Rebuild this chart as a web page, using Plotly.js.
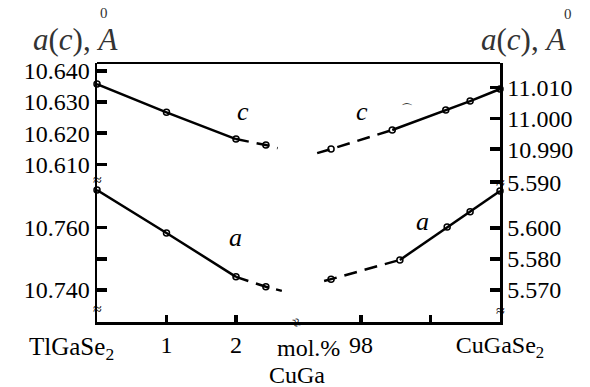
<!DOCTYPE html>
<html>
<head>
<meta charset="utf-8">
<script src="https://cdn.plot.ly/plotly-3.0.1.min.js"></script>
<style>html,body{margin:0;padding:0;background:#fff;}#chart{width:590px;height:387px;}
#st{position:absolute;left:0;top:0;font:10px monospace;color:#fff;}</style>
</head>
<body>
<div id="chart"></div>
<div id="st"></div>
<script>
window.onerror = function(m, s, l){ const d = document.getElementById('st'); d.style.color = '#c00'; d.innerHTML += 'ERR:' + m + ' line ' + l + '<br>'; };
// ---- data ----
// c parameter, TlGaSe2-rich side (left axis, upper part)
const cLeftX = [0, 1, 2, 2.43];
const cLeftY = [10.6358, 10.6267, 10.6181, 10.6162];
const cLeftEndX = 2.60, cLeftEndY = 10.6152;
// a parameter, TlGaSe2-rich side (left axis, lower part)
const aLeftX = [0, 1, 2, 2.43];
const aLeftY = [10.7721, 10.7583, 10.7442, 10.7410];
const aLeftEndX = 2.66, aLeftEndY = 10.7397;
// c parameter, CuGaSe2-rich side (right axis, upper part)
const cRightX = [97.57, 98.45, 99.22, 99.57, 100];
const cRightY = [10.9900, 10.9962, 11.0027, 11.0056, 11.0095];
const cRightStartX = 97.37, cRightStartY = 10.9887;
// a parameter, CuGaSe2-rich side (right axis, lower part)
const aRightX = [97.57, 98.56, 99.24, 99.57, 100];
const aRightY = [5.5735, 5.5797, 5.5903, 5.5952, 5.6019];
const aRightStartX = 97.47, aRightStartY = 5.5729;

// tick labels
const xLeftTicks = [1, 2];
const xLeftLabels = ['1', '2'];
const xRightTicks = [98, 99, 100];
const xRightLabels = ['98', '', 'CuGaSe<sub>2</sub>'];
const yUpLeftTicks = [10.61, 10.62, 10.63, 10.64];
const yUpLeftLabels = ['10.610', '10.620', '10.630', '10.640'];
const yLowLeftTicks = [10.74, 10.75, 10.76];
const yLowLeftLabels = ['10.740', '', '10.760'];
const yUpRightTicks = [10.99, 11.00, 11.01];
const yUpRightLabels = ['10.990', '11.000', '11.010'];
const yLowRightTicks = [5.57, 5.58, 5.59, 5.6048];
const yLowRightLabels = ['5.570', '5.580', '5.600', '5.590'];

// ---- layout geometry ----
const L = 97, R = 500, T = 63, B = 322, BRK_Y = 180, BRK_X = 297;
const PW = R - L, PH = B - T;
const px = x => (x - L) / PW;
const py = y => (B - y) / PH;
const splitY = py(BRK_Y);
const splitX = px(BRK_X);

const SERIF = 'Liberation Serif';
const tickFont = {family: SERIF, size: 24, color: '#000'};
const LINE = {color: '#000', width: 2.5};
const MARK = {symbol: 'circle-open', size: 6, color: '#000', line: {width: 1.5, color: '#000'}};
const DASH = '13px,8px';

function solidPart(xs, ys, n, xa, ya) {
  return {x: xs.slice(0, n), y: ys.slice(0, n), xaxis: xa, yaxis: ya, mode: 'lines', line: LINE, showlegend: false};
}
function dashedPart(xs, ys, xa, ya) {
  return {x: xs, y: ys, xaxis: xa, yaxis: ya, mode: 'lines', line: Object.assign({}, LINE, {dash: DASH}), showlegend: false};
}
function marks(xs, ys, xa, ya) {
  return {x: xs, y: ys, xaxis: xa, yaxis: ya, mode: 'markers', marker: MARK, cliponaxis: false, showlegend: false};
}

const traces = [
  solidPart(cLeftX, cLeftY, 3, 'x', 'y'),
  dashedPart(cLeftX.slice(2).concat([cLeftEndX]), cLeftY.slice(2).concat([cLeftEndY]), 'x', 'y'),
  marks(cLeftX, cLeftY, 'x', 'y'),
  solidPart(aLeftX, aLeftY, 3, 'x', 'y2'),
  dashedPart(aLeftX.slice(2).concat([aLeftEndX]), aLeftY.slice(2).concat([aLeftEndY]), 'x', 'y2'),
  marks(aLeftX, aLeftY, 'x', 'y2'),
  dashedPart([cRightStartX].concat(cRightX.slice(0, 2)), [cRightStartY].concat(cRightY.slice(0, 2)), 'x2', 'y3'),
  {x: cRightX.slice(1), y: cRightY.slice(1), xaxis: 'x2', yaxis: 'y3', mode: 'lines', line: LINE, showlegend: false},
  marks(cRightX, cRightY, 'x2', 'y3'),
  dashedPart([aRightStartX].concat(aRightX.slice(0, 2)), [aRightStartY].concat(aRightY.slice(0, 2)), 'x2', 'y4'),
  {x: aRightX.slice(1), y: aRightY.slice(1), xaxis: 'x2', yaxis: 'y4', mode: 'lines', line: LINE, showlegend: false},
  marks(aRightX, aRightY, 'x2', 'y4')
];

const axBase = {showgrid: false, zeroline: false, showline: true, linecolor: '#000', linewidth: 2.5,
                ticks: 'inside', tickcolor: '#000', tickwidth: 3.5, tickfont: tickFont, tickmode: 'array'};

const layout = {
  width: 590, height: 387,
  margin: {l: L, r: 590 - R, t: T, b: 387 - B, pad: 0},
  showlegend: false,
  xaxis: Object.assign({}, axBase, {domain: [0, splitX], range: [0, 2.878], anchor: 'y2', tickvals: xLeftTicks, ticktext: xLeftLabels, ticklen: 7}),
  xaxis2: Object.assign({}, axBase, {domain: [splitX, 1], range: [97.08, 100], anchor: 'y4', tickvals: xRightTicks, ticktext: xRightLabels, ticklen: 7}),
  yaxis: Object.assign({}, axBase, {domain: [splitY, 1], range: [10.60495, 10.64257], anchor: 'x', tickvals: yUpLeftTicks, ticktext: yUpLeftLabels, ticklen: 10}),
  yaxis2: Object.assign({}, axBase, {domain: [0, splitY], range: [10.7297, 10.7753], anchor: 'x', tickvals: yLowLeftTicks, ticktext: yLowLeftLabels, ticklen: 10}),
  yaxis3: Object.assign({}, axBase, {domain: [splitY, 1], range: [10.97997, 11.01795], anchor: 'x2', side: 'right', tickvals: yUpRightTicks, ticktext: yUpRightLabels, ticklen: 10}),
  yaxis4: Object.assign({}, axBase, {domain: [0, splitY], range: [5.55968, 5.60548], anchor: 'x2', side: 'right', tickvals: yLowRightTicks, ticktext: yLowRightLabels, ticklen: 10}),
  shapes: [{type: 'line', xref: 'paper', yref: 'paper', x0: 0, x1: 1, y0: 1, y1: 1, line: {color: '#000', width: 2}}],
  annotations: []
};

function ann(text, x, y, opts) {
  layout.annotations.push(Object.assign({text: text, x: px(x), y: py(y), xref: 'paper', yref: 'paper',
    showarrow: false, xanchor: 'center', yanchor: 'middle', font: {family: SERIF, size: 24, color: '#000'}}, opts || {}));
}
ann('<i>a</i>(<i>c</i>), <i>A</i>', 75, 40, {font: {family: SERIF, size: 31, color: '#333'}});
ann('0', 104, 13, {font: {family: SERIF, size: 15, color: '#333'}});
ann('<i>a</i>(<i>c</i>), <i>A</i>', 523, 40, {font: {family: SERIF, size: 31, color: '#333'}});
ann('0', 568, 14, {font: {family: SERIF, size: 15, color: '#333'}});
ann('TlGaSe<sub>2</sub>', 71, 348, {font: {family: SERIF, size: 25, color: '#000'}});
ann('mol.%', 308, 348, {font: {family: SERIF, size: 24, color: '#000'}});
ann('CuGa', 297, 375, {font: {family: SERIF, size: 24, color: '#000'}});
ann('<i>c</i>', 243, 112, {font: {family: SERIF, size: 26, color: '#000'}});
ann('<i>c</i>', 362, 111, {font: {family: SERIF, size: 26, color: '#000'}});
ann('⌒', 407, 109, {font: {family: SERIF, size: 12, color: '#000'}});
ann('<i>a</i>', 235, 237, {font: {family: SERIF, size: 26, color: '#000'}});
ann('<i>a</i>', 422, 221, {font: {family: SERIF, size: 26, color: '#000'}});
ann('≈', 97, 179, {font: {family: SERIF, size: 16, color: '#000'}});
ann('≈', 97, 308, {font: {family: SERIF, size: 16, color: '#000'}});
ann('≈', 500, 182, {font: {family: SERIF, size: 16, color: '#000'}});
ann('≈', 500, 310, {font: {family: SERIF, size: 16, color: '#000'}});
ann('≈', 297, 322, {font: {family: SERIF, size: 16, color: '#000'}, textangle: 70});

const gd = document.getElementById('chart');
Plotly.newPlot(gd, traces, layout, {displayModeBar: false, staticPlot: true}).then(() => {
  document.getElementById('st').textContent = '.';
}).catch(e => { const d = document.getElementById('st'); d.style.color = '#c00'; d.textContent = 'CATCH:' + e.message; });
</script>
</body>
</html>
